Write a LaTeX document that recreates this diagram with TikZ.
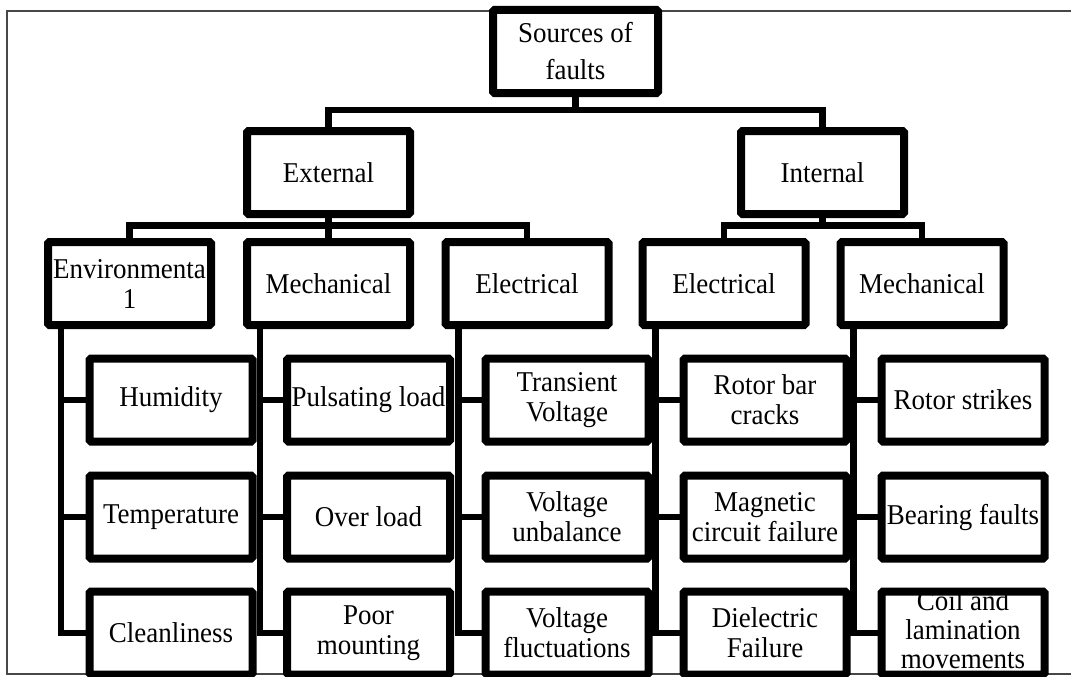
\documentclass[tikz,border=0pt]{standalone}
\usepackage{fontspec}
\setmainfont{Liberation Serif}[FakeStretch=0.94]
\usetikzlibrary{backgrounds}
\newcommand{\fixtxt}[1]{\parbox[c][0pt][c]{160pt}{\centering #1}}
\begin{document}
\begin{tikzpicture}[x=1pt,y=-1pt,
  box/.style={draw=black, line width=8pt, fill=white, minimum width=163pt,
    minimum height=83pt, inner sep=0pt, rounded corners=1.5pt, align=center,
    font=\fontsize{28.7}{30}\selectfont},
  conn/.style={draw=black, line width=6.5pt},
  frame/.style={draw=black!72, line width=1.5pt}]
\useasboundingbox (0,0) rectangle (1071,677);
% bus points
\coordinate (b0) at (575.5,110);
\coordinate (b1) at (328.5,225.5);
\coordinate (b2) at (822.5,225.5);
% nodes
\node[box, minimum width=165pt, minimum height=83pt, font=\fontsize{28.7}{37}\selectfont] (root) at (575.5,51.5) {Sources of\\faults};
\node[box] (ext) at (328.5,172.5) {External};
\node[box] (int) at (822.5,172.5) {Internal};
\node[box] (env)  at (129.5,283.5) {Environmenta\\1};
\node[box] (mech) at (328.5,283.5) {Mechanical};
\node[box] (elec) at (527,283.5) {Electrical};
\node[box] (ie)   at (724,283.5) {Electrical};
\node[box] (im)   at (922,283.5) {Mechanical};
\node[box] (c11) at (171,400) {Humidity};
\node[box] (c12) at (171,517) {Temperature};
\node[box] (c13) at (171,633) {Cleanliness};
\node[box] (c21) at (368.5,400) {Pulsating load};
\node[box] (c22) at (368.5,517) {Over load};
\node[box] (c23) at (368.5,633) {Poor\\mounting};
\node[box] (c31) at (567,400) {Transient\\Voltage};
\node[box] (c32) at (567,517) {Voltage\\unbalance};
\node[box] (c33) at (567,633) {Voltage\\fluctuations};
\node[box] (c41) at (765,400) {Rotor bar\\cracks};
\node[box] (c42) at (765,517) {Magnetic\\circuit failure};
\node[box] (c43) at (765,633) {Dielectric\\Failure};
\node[box] (c51) at (963,400) {Rotor strikes};
\node[box] (c52) at (963,517) {Bearing faults};
\node[box] (c53) at (963,633) {\fixtxt{\fontsize{28.7}{29}\selectfont Coil and\\lamination\\movements}};
\begin{scope}[on background layer]
  % outer frame (open at right)
  \draw[frame] (1080,11) -- (7,11) -- (7,674) -- (1080,674);
  % top levels
  \draw[conn] (root.south) -- (b0) -| (ext.north);
  \draw[conn] (b0) -| (int.north);
  \draw[conn] (ext.south) -- (b1) -| (env.north);
  \draw[conn] (b1) -- (mech.north);
  \draw[conn] (b1) -| (elec.north);
  \draw[conn] (int.south) -- (b2) -| (ie.north);
  \draw[conn] (b2) -| (im.north);
  % columns
  \foreach \p/\a/\b/\c in {env/c11/c12/c13, mech/c21/c22/c23, elec/c31/c32/c33, ie/c41/c42/c43, im/c51/c52/c53}{
    \draw[conn] ([xshift=17pt]\p.south west) |- (\c.west);
    \draw[conn] ([xshift=17pt]\p.south west) |- (\a.west);
    \draw[conn] ([xshift=17pt]\p.south west) |- (\b.west);
  }
\end{scope}
\end{tikzpicture}
\end{document}
